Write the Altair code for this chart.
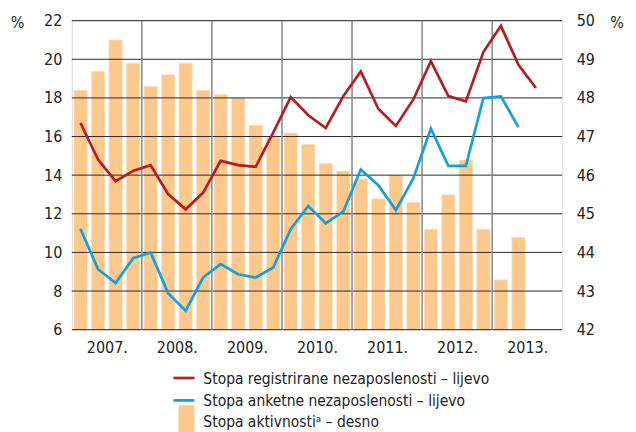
import altair as alt
import pandas as pd

# ---- data ----
years = ["2007.", "2008.", "2009.", "2010.", "2011.", "2012.", "2013."]

# Stopa registrirane nezaposlenosti (left axis, %), 2007Q1 .. 2013Q3
registered = [16.70, 14.81, 13.69, 14.22, 14.52, 13.02, 12.23, 13.09,
              14.74, 14.52, 14.43, 16.20, 18.04, 17.10, 16.44, 18.09,
              19.37, 17.44, 16.55, 17.92, 19.90, 18.09, 17.82, 20.37,
              21.73, 19.71, 18.51]

# Stopa anketne nezaposlenosti (left axis, %), 2007Q1 .. 2013Q2
survey = [11.21, 9.13, 8.41, 9.70, 9.99, 7.89, 6.98, 8.70,
          9.39, 8.87, 8.70, 9.22, 11.20, 12.40, 11.51, 12.11,
          14.29, 13.48, 12.19, 13.83, 16.41, 14.48, 14.48, 17.99,
          18.08, 16.49]

# Stopa aktivnosti (right axis, %), 2007Q1 .. 2013Q2
activity = [48.20, 48.69, 49.50, 48.90, 48.30, 48.60, 48.90, 48.20,
            48.09, 48.00, 47.29, 46.99, 47.09, 46.80, 46.30, 46.10,
            45.90, 45.39, 46.00, 45.30, 44.60, 45.49, 46.39, 44.60,
            43.29, 44.39]

left_ticks = [6, 8, 10, 12, 14, 16, 18, 20, 22]
right_ticks = [42, 43, 44, 45, 46, 47, 48, 49, 50]

labels = ["Stopa registrirane nezaposlenosti – lijevo",
          "Stopa anketne nezaposlenosti – lijevo",
          "Stopa aktivnostiᵃ – desno"]

RED = "#B41E22"
BLUE = "#15A0D9"
BAR = "#FCC88C"
FONT = "Liberation Sans Narrow, DejaVu Sans Condensed, Arial Narrow, sans-serif"

# ---- tables ----
n_q = 4 * len(years)
df_red = pd.DataFrame({"pos": [k + 0.5 for k in range(len(registered))], "v": registered})
df_blue = pd.DataFrame({"pos": [k + 0.5 for k in range(len(survey))], "v": survey})
df_bar = pd.DataFrame({"x0": [k + 0.12 for k in range(len(activity))],
                       "x1": [k + 0.88 for k in range(len(activity))],
                       "v": activity, "base": [right_ticks[0]] * len(activity)})
df_hgrid = pd.DataFrame({"v": left_ticks})
df_vgrid = pd.DataFrame({"b": [4 * i for i in range(1, len(years))]})
one = pd.DataFrame({"a": [0]})

xs = alt.Scale(domain=[0, n_q], nice=False, zero=False)
x_axis = alt.Axis(values=[4 * i + 2 for i in range(len(years))],
                  labelExpr="(2007 + (datum.value - 2) / 4) + '.'",
                  title=None, ticks=False, domain=False, grid=False,
                  labelPadding=10, labelBaseline="top", labelFontSize=16,
                  labelColor="#222", labelFont=FONT)
yl = alt.Scale(domain=[left_ticks[0], left_ticks[-1]], nice=False, zero=False)
yr = alt.Scale(domain=[right_ticks[0], right_ticks[-1]], nice=False, zero=False)

bars = alt.Chart(df_bar).mark_bar(color=BAR, stroke="#FDE3C4", strokeWidth=0.6).encode(
    x=alt.X("x0:Q", scale=xs, axis=x_axis),
    x2="x1:Q",
    y=alt.Y("v:Q", scale=yr,
            axis=alt.Axis(orient="right", values=right_ticks, title=None, ticks=False,
                          domain=False, grid=False, labelPadding=14, labelFontSize=16,
                          labelColor="#222", labelFont=FONT)),
    y2="base:Q",
)

hgrid = alt.Chart(df_hgrid).mark_rule(color="#2a2a2a", strokeWidth=1).encode(
    y=alt.Y("v:Q", scale=yl, axis=None)
)

vgrid = alt.Chart(df_vgrid).mark_rule(color="#888888", strokeWidth=1.5).encode(
    x=alt.X("b:Q", scale=xs, axis=x_axis)
)

line_red = alt.Chart(df_red).mark_line(color=RED, strokeWidth=2.7).encode(
    x=alt.X("pos:Q", scale=xs, axis=x_axis),
    y=alt.Y("v:Q", scale=yl,
            axis=alt.Axis(orient="left", values=left_ticks, title=None, ticks=False,
                          domain=False, grid=False, labelPadding=10, labelFontSize=16,
                          labelColor="#222", labelFont=FONT)),
)
line_blue = alt.Chart(df_blue).mark_line(color=BLUE, strokeWidth=2.7).encode(
    x=alt.X("pos:Q", scale=xs, axis=x_axis),
    y=alt.Y("v:Q", scale=yl, axis=None),
)

# ---- decorations: top rule, % units, legend ----
top_rule = alt.Chart(one).mark_rule(color="#8a8a8a", strokeWidth=1.6).encode(
    x=alt.value(-60), x2=alt.value(552), y=alt.value(-15))
pct_l = alt.Chart(one).mark_text(text="%", fontSize=16, font=FONT, color="#222",
                                  align="center", baseline="middle").encode(
    x=alt.value(-54.5), y=alt.value(2.5))
pct_r = alt.Chart(one).mark_text(text="%", fontSize=16, font=FONT, color="#222",
                                  align="center", baseline="middle").encode(
    x=alt.value(547), y=alt.value(2.5))

leg_red = alt.Chart(one).mark_rule(color=RED, strokeWidth=2.7).encode(
    x=alt.value(102), x2=alt.value(123), y=alt.value(358.5))
leg_blue = alt.Chart(one).mark_rule(color=BLUE, strokeWidth=2.7).encode(
    x=alt.value(102), x2=alt.value(123), y=alt.value(381))
leg_bar = alt.Chart(one).mark_rect(color=BAR).encode(
    x=alt.value(107), x2=alt.value(123), y=alt.value(386), y2=alt.value(420))
leg_texts = [
    alt.Chart(one).mark_text(text=t, fontSize=15.5, font=FONT, color="#222",
                             align="left", baseline="middle").encode(
        x=alt.value(132), y=alt.value(yy))
    for t, yy in zip(labels, [359.5, 381.5, 402.5])
]

chart = alt.layer(
    bars, hgrid, vgrid, line_red, line_blue,
    top_rule, pct_l, pct_r, leg_red, leg_blue, leg_bar, *leg_texts
).resolve_scale(y="independent").properties(
    width=492, height=310,
    autosize=alt.AutoSizeParams(type="none"),
    padding={"left": 64, "top": 12, "right": 66, "bottom": 102},
).configure_view(stroke="#1a1a1a", strokeWidth=1.6).configure(background="white")

chart.save("out.html", embed_options={"renderer": "svg", "actions": False})
